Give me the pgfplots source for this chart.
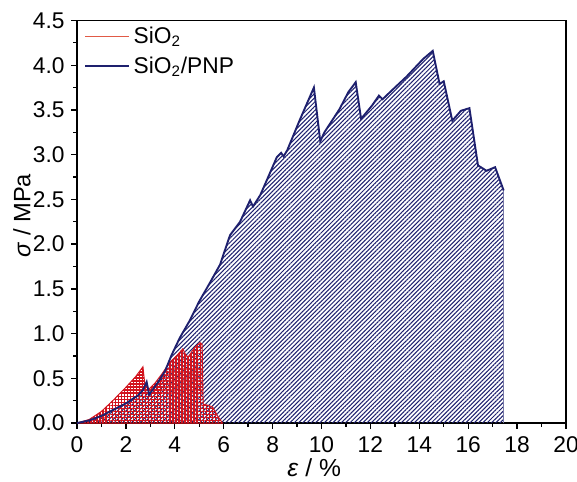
\documentclass[border=0pt]{standalone}
\usepackage{fontspec}
\setmainfont{Liberation Sans}
\usepackage{pgfplots}
\pgfplotsset{compat=1.18}
\usetikzlibrary{patterns.meta}
\definecolor{navyline}{RGB}{30,32,110}
\definecolor{redfill}{RGB}{210,20,30}
\definecolor{redline}{RGB}{225,90,70}

\begin{document}
\begin{tikzpicture}
\begin{axis}[
  scale only axis,
  width=258pt, height=212.4pt,
  xmin=0, xmax=20, ymin=0, ymax=4.5,
  xtick={0,2,...,20}, ytick={0,0.5,...,4.5},
  minor x tick num=1, minor y tick num=1,
  xtick pos=left, ytick pos=left,
  tick align=outside,
  major tick length=3pt, minor tick length=2pt,
  axis line style={line width=0.9pt},
  every tick/.style={line width=0.7pt, black},
  /pgf/number format/assume math mode=true,
  y tick label style={/pgf/number format/.cd, fixed, fixed zerofill, precision=1},
  x tick label style={yshift=-0.5pt},
  tick label style={font=\fontsize{12}{14}\selectfont},
  xlabel={\textit{ε} / \%},
  ylabel={\textit{σ} / MPa},
  every axis x label/.style={at={(axis description cs:0.485,-0.112)}, anchor=center,
    font=\fontsize{13}{15}\selectfont},
  every axis y label/.style={at={(axis description cs:-0.1124,0.515)}, rotate=90, anchor=center,
    font=\fontsize{12.5}{15}\selectfont},
  legend style={at={(0.003,1.004)}, anchor=north west, draw=none, fill=none,
    font=\fontsize{12}{14}\selectfont, row sep=1.5pt},
  legend cell align=left,
  legend image code/.code={\draw[#1] (0pt,0pt) -- (23pt,0pt);},
]
% filled areas
\addplot[forget plot, draw=none,
  pattern={Lines[angle=45,distance=1.6pt,line width=0.55pt]}, pattern color=navyline]
coordinates {
(0,0)(0.5,0.03)(1,0.08)(1.5,0.15)(2,0.22)(2.5,0.31)(2.7,0.37)(2.85,0.46)(2.95,0.32)
(3.3,0.45)(3.6,0.58)(3.87,0.76)(4.2,0.95)(4.6,1.14)(5.0,1.36)(5.4,1.55)(5.85,1.77)
(6.26,2.10)(6.67,2.25)(7.08,2.49)(7.2,2.42)(7.5,2.55)(7.9,2.80)(8.17,2.97)(8.35,3.02)
(8.45,2.98)(8.6,3.05)(9.1,3.38)(9.45,3.6)(9.69,3.75)(9.95,3.15)(10.12,3.25)(10.74,3.51)
(11.1,3.7)(11.4,3.81)(11.62,3.4)(12.07,3.55)(12.35,3.66)(12.5,3.62)(13.0,3.75)(13.47,3.87)
(14.16,4.07)(14.55,4.16)(14.83,3.79)(15.0,3.82)(15.35,3.38)(15.7,3.49)(16.05,3.52)
(16.4,2.88)(16.75,2.82)(17.1,2.86)(17.45,2.6)(17.45,0)
} \closedcycle;
\addplot[forget plot, draw=redfill, line width=0.5pt,
  pattern={Hatch[angle=0,distance=1.6pt,line width=0.7pt]}, pattern color=redfill]
coordinates {
(0,0)(0.5,0.04)(1,0.13)(1.5,0.26)(2,0.40)(2.4,0.52)(2.7,0.63)(2.78,0.42)(2.95,0.38)
(3.2,0.45)(3.5,0.56)(3.8,0.68)(4.1,0.76)(4.33,0.83)(4.45,0.76)(4.55,0.74)(4.8,0.84)
(5.03,0.90)(5.12,0.88)(5.16,0.21)(5.35,0.20)(5.55,0.18)(5.75,0.08)(5.95,0)
} \closedcycle;
% outline of SiO2/PNP curve
\addplot[forget plot, navyline!60, line width=0.6pt] coordinates {(17.45,2.6)(17.45,0)};
\addplot[forget plot, navyline, line width=1pt] coordinates {
(0,0)(0.5,0.03)(1,0.08)(1.5,0.15)(2,0.22)(2.5,0.31)(2.7,0.37)(2.85,0.46)(2.95,0.32)
(3.3,0.45)(3.6,0.58)(3.87,0.76)(4.2,0.95)(4.6,1.14)(5.0,1.36)(5.4,1.55)(5.85,1.77)
(6.26,2.10)(6.67,2.25)(7.08,2.49)(7.2,2.42)(7.5,2.55)(7.9,2.80)(8.17,2.97)(8.35,3.02)
(8.45,2.98)(8.6,3.05)(9.1,3.38)(9.45,3.6)(9.69,3.75)(9.95,3.15)(10.12,3.25)(10.74,3.51)
(11.1,3.7)(11.4,3.81)(11.62,3.4)(12.07,3.55)(12.35,3.66)(12.5,3.62)(13.0,3.75)(13.47,3.87)
(14.16,4.07)(14.55,4.16)(14.83,3.79)(15.0,3.82)(15.35,3.38)(15.7,3.49)(16.05,3.52)
(16.4,2.88)(16.75,2.82)(17.1,2.86)(17.45,2.6)
};
\addlegendimage{redline, line width=0.8pt}
\addlegendentry{SiO\textsubscript{2}}
\addlegendimage{navyline, line width=0.9pt}
\addlegendentry{SiO\textsubscript{2}/PNP}
\end{axis}
\pgfresetboundingbox
\path[use as bounding box] ([xshift=-40.6pt,yshift=-30.6pt]current axis.south west)
  rectangle ([xshift=5.8pt,yshift=10.8pt]current axis.north east);
\end{tikzpicture}
\end{document}
